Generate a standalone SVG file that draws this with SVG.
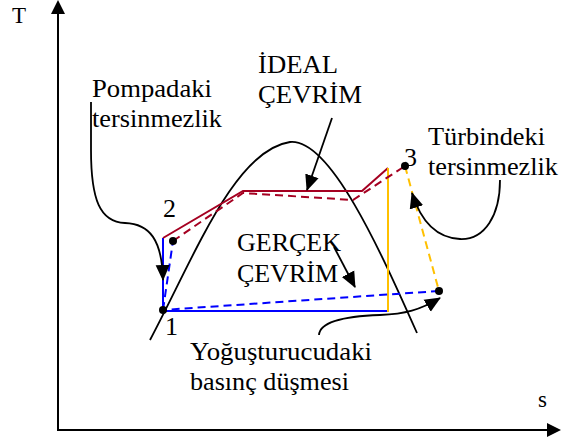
<svg xmlns="http://www.w3.org/2000/svg" width="561" height="443" viewBox="0 0 561 443">
<style>
.ax{stroke:#000;stroke-width:2;fill:none}
.k{stroke:#000;stroke-width:1.8;fill:none}
.b{stroke:#0000ff;stroke-width:2;fill:none}
.r{stroke:#a50021;stroke-width:2;fill:none}
.y{stroke:#ffc000;stroke-width:2;fill:none}
.d{stroke-dasharray:8,5}
.dot{fill:#000}
</style>
<defs>
<marker id="ah" markerUnits="userSpaceOnUse" markerWidth="16" markerHeight="16" viewBox="0 0 16 16" refX="15" refY="8" orient="auto">
<path d="M0,1 L16,8 L0,15 Z" fill="#000"/>
</marker>
</defs>
<rect width="561" height="443" fill="#fff"/>
<g font-family="'Liberation Serif', 'Times New Roman', serif" font-size="26" fill="#000">
<g id="axes">
<path class="ax" d="M58,12 V430 H549"/>
<path d="M51,14 L58,0 L65,14 Z" fill="#000"/>
<path d="M547,423 L561,430 L547,437 Z" fill="#000"/>
<text font-size="23" x="12" y="23">T</text>
<text font-size="23" x="538" y="407">s</text>
</g>
<g id="dome">
<path class="k" d="M150,340 C195,255 235,150 290,142 C330,138 380,250 417,333"/>
</g>
<g id="ideal-cycle">
<path class="b" d="M163,311 V238"/>
<path class="b" d="M163,311 H388"/>
<path class="r" d="M163,238 L243,191 H362 L388,168"/>
<path class="y" d="M388,168 V312"/>
</g>
<g id="actual-cycle">
<path class="b d" d="M163,310 L173,241"/>
<path class="r d" d="M173,241 L243,193 L353,200 L405,166"/>
<path class="y d" d="M405,166 L439,291"/>
<path class="b d" d="M439,291 L163,310"/>
</g>
<g id="point-1"><circle class="dot" cx="163" cy="310" r="4"/><text x="165" y="335">1</text></g>
<g id="point-2"><circle class="dot" cx="173" cy="241" r="4"/><text x="163" y="217">2</text></g>
<g id="point-3"><circle class="dot" cx="405" cy="166" r="4"/><text x="404" y="166">3</text></g>
<g id="point-4"><circle class="dot" cx="439" cy="291" r="4"/></g>
<g id="label-pompa">
<text x="92" y="97" textLength="120" lengthAdjust="spacingAndGlyphs">Pompadaki</text>
<text x="92" y="127" textLength="130" lengthAdjust="spacingAndGlyphs">tersinmezlik</text>
</g>
<g id="label-ideal">
<text x="258" y="73" textLength="80" lengthAdjust="spacingAndGlyphs">İDEAL</text>
<text x="258" y="103" textLength="104" lengthAdjust="spacingAndGlyphs">ÇEVRİM</text>
</g>
<g id="label-turbin">
<text x="428" y="145" textLength="117" lengthAdjust="spacingAndGlyphs">Türbindeki</text>
<text x="428" y="175" textLength="130" lengthAdjust="spacingAndGlyphs">tersinmezlik</text>
</g>
<g id="label-gercek">
<text x="237" y="251" textLength="104" lengthAdjust="spacingAndGlyphs">GERÇEK</text>
<text x="237" y="282" textLength="101" lengthAdjust="spacingAndGlyphs">ÇEVRİM</text>
</g>
<g id="label-yogus">
<text x="190" y="360" textLength="182" lengthAdjust="spacingAndGlyphs">Yoğuşturucudaki</text>
<text x="190" y="390" textLength="159" lengthAdjust="spacingAndGlyphs">basınç düşmesi</text>
</g>
</g>
<g id="connectors">
<path class="k" marker-end="url(#ah)" d="M91,102 L91,150 C91,200 100,222 125,223 C150,224 162,240 163,280"/>
<path class="k" marker-end="url(#ah)" d="M332,118 L307,190"/>
<path class="k" marker-end="url(#ah)" d="M334,247 L355,287"/>
<path class="k" marker-end="url(#ah)" d="M500,180 C500,215 485,240 460,239 C440,238 422,225 412,193"/>
<path class="k" marker-end="url(#ah)" d="M319,335 C320,320 350,316 380,315 C405,314 420,310 440,298"/>
</g>
</svg>
